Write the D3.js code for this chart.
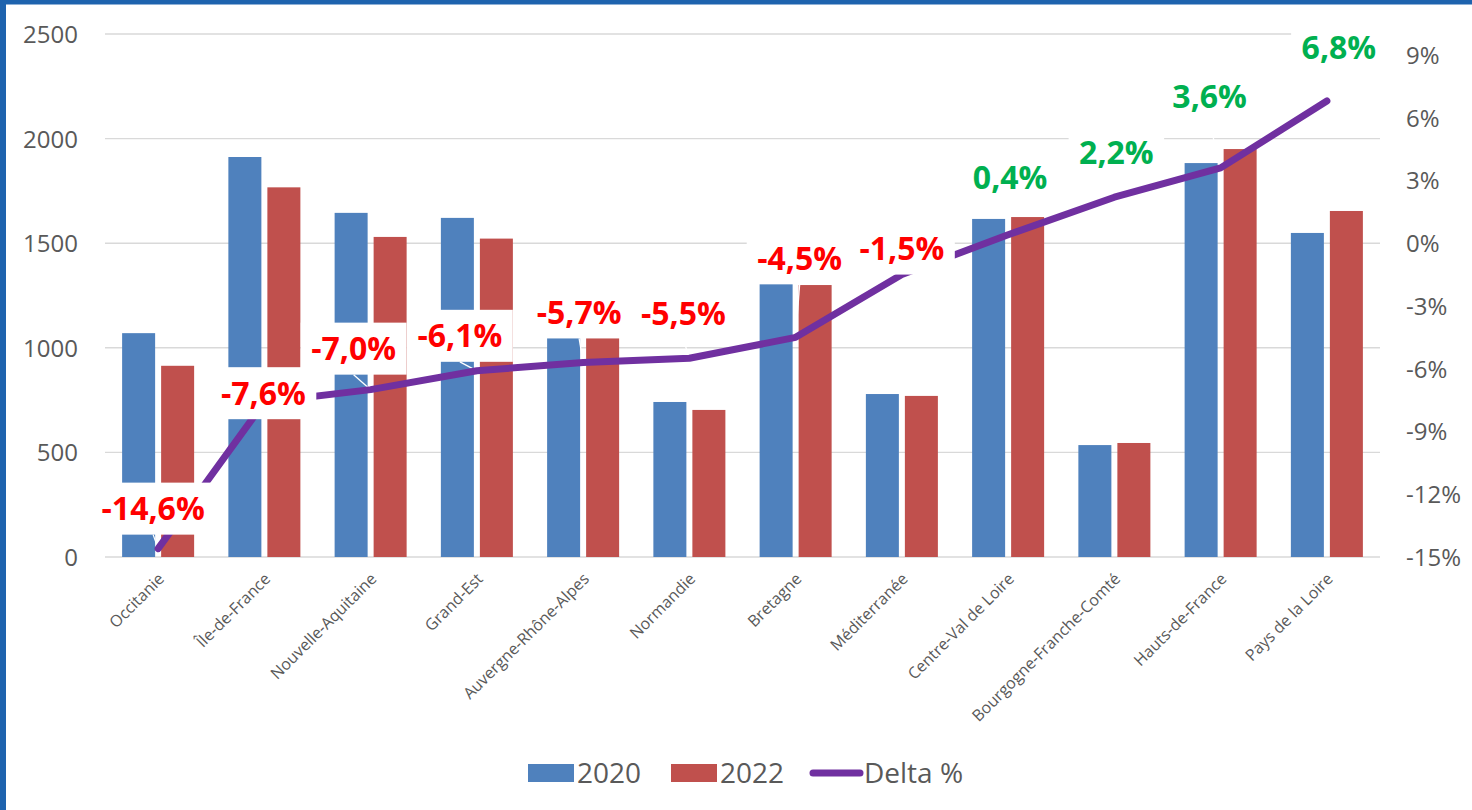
<!DOCTYPE html>
<html>
<head>
<meta charset="utf-8">
<script src="https://cdn.jsdelivr.net/npm/d3@7"></script>
<style>
  html, body { margin: 0; padding: 0; background: #fff; }
  svg { display: block; }
  text { font-family: "Open Sans", "DejaVu Sans", sans-serif; }
</style>
</head>
<body>
<svg id="chart" width="1472" height="810"></svg>
<script>
// ---------- DATA ----------
const categories = ["Occitanie", "Île-de-France", "Nouvelle-Aquitaine", "Grand-Est",
  "Auvergne-Rhône-Alpes", "Normandie", "Bretagne", "Méditerranée",
  "Centre-Val de Loire", "Bourgogne-Franche-Comté", "Hauts-de-France", "Pays de la Loire"];
const values2020 = [1070, 1912, 1645, 1621, 1060, 741, 1305, 779, 1616, 535, 1883, 1549];
const values2022 = [914, 1767, 1530, 1522, 1060, 703, 1300, 770, 1625, 545, 1950, 1654];
const deltaPct = [-14.6, -7.6, -7.0, -6.1, -5.7, -5.5, -4.5, -1.5, 0.4, 2.2, 3.6, 6.8];
const leftTicks = [0, 500, 1000, 1500, 2000, 2500];
const rightTicks = [-15, -12, -9, -6, -3, 0, 3, 6, 9];
const seriesNames = ["2020", "2022", "Delta %"];

// ---------- LAYOUT (label nudges relative to each point, px) ----------
const labelDx = [-5, -1, -17, -17, -4, -6, 4, 0, 2, 2, -11, 12];
const labelDy = [-40, -9, -41, -35, -50, -45, -79, -26, -57, -45, -71, -53];

const svg = d3.select("#chart");
const W = 1472, H = 810;
const plot = { left: 105, right: 1380, top: 34, bottom: 557 };
const gray = "#595959";
const c2020 = "#4F81BD", c2022 = "#C0504D", cLine = "#7030A0";

svg.append("rect").attr("width", W).attr("height", H).attr("fill", "#fff");

const x = d3.scaleBand().domain(categories).range([plot.left, plot.right]).padding(0);
const yL = d3.scaleLinear().domain([0, 2500]).range([plot.bottom, plot.top]);
const yR = d3.scaleLinear().domain([-15, 10]).range([plot.bottom, plot.top]);
const bw = x.bandwidth();
const barW = bw * 0.3106;
const gap = bw * 0.0565;
const cx = c => x(c) + bw / 2;

// gridlines
svg.append("g").selectAll("line").data(leftTicks).join("line")
  .attr("x1", plot.left).attr("x2", plot.right)
  .attr("y1", d => yL(d)).attr("y2", d => yL(d))
  .attr("stroke", "#d9d9d9").attr("stroke-width", 1.4);

// left axis
const axL = svg.append("g").attr("transform", `translate(${plot.left},0)`)
  .call(d3.axisLeft(yL).tickValues(leftTicks).tickSize(0).tickPadding(27).tickFormat(d3.format("d")));
axL.select(".domain").remove();
axL.selectAll("text").attr("fill", gray).style("font-size", "24px")
  .style("font-family", "'Open Sans', sans-serif").attr("dy", "0.35em");

// right axis
const axR = svg.append("g").attr("transform", `translate(${plot.right},0)`)
  .call(d3.axisRight(yR).tickValues(rightTicks).tickSize(0).tickPadding(26).tickFormat(d => d + "%"));
axR.select(".domain").remove();
axR.selectAll("text").attr("fill", gray).style("font-size", "24px")
  .style("font-family", "'Open Sans', sans-serif").attr("dy", "0.35em");

// bars
svg.append("g").selectAll("rect").data(categories).join("rect")
  .attr("x", (c) => cx(c) - gap / 2 - barW)
  .attr("y", (c, i) => yL(values2020[i]))
  .attr("width", barW)
  .attr("height", (c, i) => yL(0) - yL(values2020[i]))
  .attr("fill", c2020);
svg.append("g").selectAll("rect").data(categories).join("rect")
  .attr("x", (c) => cx(c) + gap / 2)
  .attr("y", (c, i) => yL(values2022[i]))
  .attr("width", barW)
  .attr("height", (c, i) => yL(0) - yL(values2022[i]))
  .attr("fill", c2022);

// x labels
svg.append("g").selectAll("text").data(categories).join("text")
  .attr("transform", c => `translate(${cx(c) + 3},${plot.bottom + 19}) rotate(-45)`)
  .attr("text-anchor", "end").attr("dy", "0.35em")
  .attr("fill", gray).style("font-size", "16px")
  .text(c => c);

// line points
const pts = categories.map((c, i) => [cx(c), yR(deltaPct[i])]);

// leader lines (white) from label to point
const labelPos = pts.map((p, i) => [p[0] + labelDx[i], p[1] + labelDy[i]]);
const boxH = 52;
svg.append("g").selectAll("line").data(pts).join("line")
  .attr("x1", (p, i) => labelPos[i][0]).attr("y1", (p, i) => labelPos[i][1] + boxH / 2)
  .attr("x2", p => p[0]).attr("y2", p => p[1])
  .attr("stroke", "#ffffff").attr("stroke-width", 1.3);

// delta line
svg.append("path").datum(pts)
  .attr("d", d3.line())
  .attr("fill", "none").attr("stroke", cLine).attr("stroke-width", 7)
  .attr("stroke-linejoin", "round").attr("stroke-linecap", "round");

// data labels with white boxes
const lg = svg.append("g");
deltaPct.forEach((d, i) => {
  const g = lg.append("g").attr("transform", `translate(${labelPos[i][0]},${labelPos[i][1]})`);
  const rect = g.append("rect").attr("fill", "#fff");
  const t = g.append("text")
    .attr("text-anchor", "middle").attr("dy", "0.36em")
    .style("font-size", "32px").style("font-weight", "700")
    .attr("fill", d < 0 ? "#FF0000" : "#00B050")
    .text(d.toFixed(1).replace(".", ",") + "%");
  const tw = t.node().getComputedTextLength();
  rect.attr("x", -tw / 2 - 10.5).attr("y", -boxH / 2).attr("width", tw + 21).attr("height", boxH);
});

// legend
const leg = svg.append("g");
const legY = 773;
const legItems = [
  { name: seriesNames[0], type: "rect", color: c2020, x: 528 },
  { name: seriesNames[1], type: "rect", color: c2022, x: 671 },
  { name: seriesNames[2], type: "line", color: cLine, x: 810 }
];
legItems.forEach(it => {
  if (it.type === "rect") {
    leg.append("rect").attr("x", it.x).attr("y", legY - 9).attr("width", 46).attr("height", 18).attr("fill", it.color);
    leg.append("text").attr("x", it.x + 49).attr("y", legY).attr("dy", "0.36em")
      .attr("fill", gray).style("font-size", "28px").text(it.name);
  } else {
    leg.append("line").attr("x1", it.x + 3).attr("x2", it.x + 50).attr("y1", legY).attr("y2", legY)
      .attr("stroke", it.color).attr("stroke-width", 7).attr("stroke-linecap", "round");
    leg.append("text").attr("x", it.x + 54).attr("y", legY).attr("dy", "0.36em")
      .attr("fill", gray).style("font-size", "28px").text(it.name);
  }
});

// frame border (top and left)
svg.append("rect").attr("x", 0).attr("y", 0).attr("width", W).attr("height", 4.5).attr("fill", "#1E63AE");
svg.append("rect").attr("x", 0).attr("y", 0).attr("width", 6).attr("height", H).attr("fill", "#1E63AE");
</script>
</body>
</html>
